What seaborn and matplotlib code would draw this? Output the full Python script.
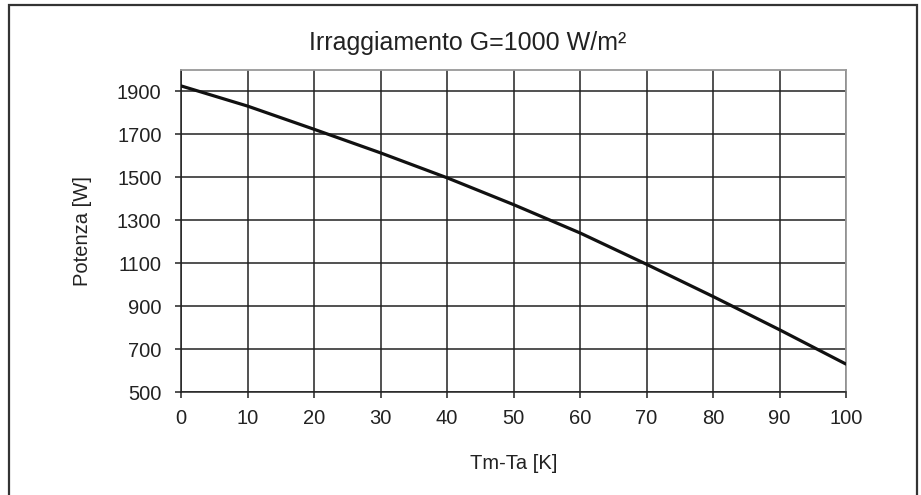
import pandas as pd
import matplotlib.pyplot as plt
import matplotlib.patches as patches
import seaborn as sns

# Values
delta_t = [0, 10, 20, 30, 40, 50, 60, 70, 80, 90, 100]
potenza = [1926, 1832, 1724, 1614, 1498, 1373, 1241, 1095, 945, 790, 630]
y_ticks = [500, 700, 900, 1100, 1300, 1500, 1700, 1900]
x_ticks = [0, 10, 20, 30, 40, 50, 60, 70, 80, 90, 100]

data = pd.DataFrame({'Tm-Ta [K]': delta_t, 'Potenza [W]': potenza})

sns.set_style("ticks")
plt.rcParams['font.family'] = ['Liberation Sans', 'DejaVu Sans']
plt.rcParams['xtick.labelsize'] = 14.5
plt.rcParams['ytick.labelsize'] = 14.5
plt.rcParams['axes.labelsize'] = 14.5
text_color = '#222222'

fig = plt.figure(figsize=(9.21, 4.95), dpi=100)
ax = fig.add_axes([181 / 921, 1 - 392 / 495, (846 - 181) / 921, (392 - 70) / 495])

sns.lineplot(data=data, x='Tm-Ta [K]', y='Potenza [W]', ax=ax,
             color='#111111', linewidth=2.3, zorder=3)

ax.set_xlim(0, 100)
ax.set_ylim(500, 2000)
ax.set_xticks(x_ticks)
ax.set_yticks(y_ticks)
ax.set_xticklabels([str(v) for v in x_ticks], fontsize=14.5, color=text_color)
ax.set_yticklabels([str(v) for v in y_ticks], fontsize=14.5, color=text_color)
ax.grid(True, color='#222222', linewidth=1.1)
ax.set_axisbelow(True)

for side in ['left', 'bottom']:
    ax.spines[side].set_color('#222222')
    ax.spines[side].set_linewidth(1.1)
for side in ['top', 'right']:
    ax.spines[side].set_visible(True)
    ax.spines[side].set_color('#999999')
    ax.spines[side].set_linewidth(1.3)

ax.tick_params(axis='both', direction='out', length=4, width=1.1, color='#222222')
ax.tick_params(axis='x', pad=8)
ax.tick_params(axis='y', pad=10)

ax.set_xlabel('Tm-Ta [K]', fontsize=14.5, color=text_color, labelpad=19)
ax.set_ylabel('Potenza [W]', fontsize=14.5, color=text_color, labelpad=18)

fig.text(468 / 921, 1 - 43 / 495, 'Irraggiamento G=1000 W/m²', fontsize=18,
         color=text_color, ha='center', va='center')

# Outer frame around the figure (bottom edge falls outside the image)
fig.patches.append(patches.Rectangle((9 / 921, -0.05), (917 - 9) / 921, 1.05 - 5 / 495,
                                     transform=fig.transFigure, fill=False,
                                     edgecolor='#333333', linewidth=1.6))

plt.savefig('out.png', dpi=100)
